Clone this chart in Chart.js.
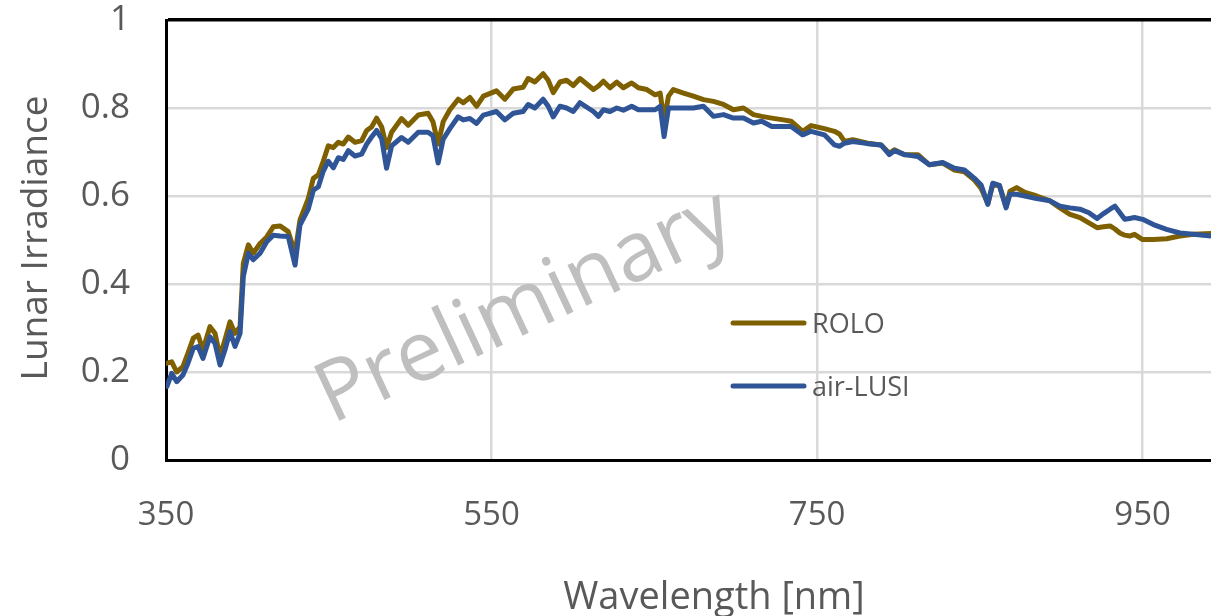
<!DOCTYPE html>
<html>
<head>
<meta charset="utf-8">
<script src="https://cdn.jsdelivr.net/npm/chart.js@4/dist/chart.umd.min.js"></script>
<style>
  html, body { margin: 0; padding: 0; background: #fff; }
  canvas { display: block; }
</style>
</head>
<body>
<canvas id="lunar" width="1211" height="616"></canvas>
<script>
// wavelength in nm
const wavelengths = [
  350.6, 353.5, 356.6, 360.4, 363.5, 366.8, 369.7, 372.7, 377, 380.1,
  383.2, 386.2, 389.3, 392.4, 395.5, 397.5, 400.6, 403.6, 407.8, 411.9,
  415.9, 420, 425.1, 429.3, 432.3, 437.4, 440.5, 443.6, 446.6, 449.7,
  452.8, 455.9, 458.9, 462, 466.1, 470.2, 473.3, 476.3, 479.4, 482.5,
  485.5, 488.6, 494.7, 498.8, 505, 511, 514, 517.2, 520.3, 524.4,
  529.5, 532.6, 536.7, 540.8, 545, 553, 558.2, 563.3, 569.4, 572.5,
  576.6, 581.7, 584.8, 587.9, 592, 596.1, 600.2, 604.3, 612.6, 615.7,
  618.7, 622.8, 626.9, 631, 636.1, 640.2, 645.4, 650.5, 653.6, 656,
  658.7, 661.7, 667.9, 674, 680.2, 686.3, 692.5, 698.6, 704.8, 710.9,
  716, 722.2, 729.3, 734, 741.2, 746.3, 754.5, 760.7, 763.7, 766.8,
  771.9, 781.1, 789.3, 794.4, 797.5, 803.7, 811.9, 819, 827.2, 834.4,
  840.5, 846.7, 850.8, 854.9, 857.9, 862, 866.1, 868.5, 872.6, 877.7,
  884.9, 893.1, 899.2, 905.4, 911.5, 917, 922, 926, 930, 933,
  936, 939, 942, 945, 950, 956.6, 964.7, 972.9, 981.1, 992
];

const roloValues = [
  0.22, 0.223, 0.20, 0.212, 0.243, 0.277, 0.284, 0.25, 0.303, 0.288,
  0.235, 0.273, 0.314, 0.288, 0.303, 0.447, 0.489, 0.47, 0.492, 0.507,
  0.53, 0.532, 0.519, 0.47, 0.545, 0.594, 0.64, 0.648, 0.679, 0.714,
  0.71, 0.722, 0.718, 0.734, 0.722, 0.726, 0.749, 0.757, 0.777, 0.757,
  0.71, 0.745, 0.776, 0.761, 0.784, 0.788, 0.769, 0.718, 0.769, 0.796,
  0.82, 0.812, 0.824, 0.804, 0.827, 0.839, 0.82, 0.843, 0.847, 0.867,
  0.859, 0.878, 0.863, 0.835, 0.859, 0.863, 0.851, 0.867, 0.842, 0.85,
  0.861, 0.846, 0.859, 0.846, 0.857, 0.846, 0.842, 0.83, 0.834, 0.77,
  0.827, 0.842, 0.834, 0.827, 0.819, 0.815, 0.808, 0.796, 0.8, 0.785,
  0.781, 0.777, 0.773, 0.77, 0.747, 0.76, 0.753, 0.747, 0.741, 0.724,
  0.728, 0.72, 0.716, 0.697, 0.705, 0.694, 0.694, 0.671, 0.675, 0.659,
  0.655, 0.636, 0.617, 0.583, 0.625, 0.624, 0.576, 0.611, 0.619, 0.608,
  0.6, 0.589, 0.573, 0.558, 0.551, 0.539, 0.528, 0.53, 0.532, 0.525,
  0.516, 0.511, 0.509, 0.513, 0.501, 0.501, 0.503, 0.509, 0.513, 0.515
];

const lusiValues = [
  0.167, 0.197, 0.178, 0.193, 0.22, 0.254, 0.258, 0.231, 0.28, 0.265,
  0.216, 0.25, 0.292, 0.258, 0.288, 0.417, 0.47, 0.455, 0.47, 0.496,
  0.511, 0.509, 0.508, 0.443, 0.534, 0.57, 0.613, 0.621, 0.656, 0.679,
  0.664, 0.687, 0.683, 0.703, 0.691, 0.695, 0.718, 0.734, 0.749, 0.73,
  0.663, 0.714, 0.733, 0.722, 0.745, 0.745, 0.737, 0.675, 0.729, 0.753,
  0.78, 0.773, 0.776, 0.765, 0.784, 0.792, 0.773, 0.788, 0.792, 0.808,
  0.8, 0.82, 0.804, 0.78, 0.804, 0.8, 0.792, 0.812, 0.792, 0.781,
  0.796, 0.792, 0.8, 0.795, 0.804, 0.796, 0.796, 0.796, 0.804, 0.735,
  0.8, 0.8, 0.8, 0.8, 0.804, 0.781, 0.785, 0.777, 0.777, 0.766,
  0.77, 0.758, 0.758, 0.758, 0.739, 0.747, 0.739, 0.716, 0.713, 0.72,
  0.724, 0.719, 0.716, 0.694, 0.703, 0.694, 0.69, 0.671, 0.676, 0.663,
  0.659, 0.64, 0.625, 0.581, 0.629, 0.624, 0.573, 0.604, 0.604, 0.6,
  0.594, 0.589, 0.577, 0.573, 0.57, 0.562, 0.549, 0.56, 0.57, 0.577,
  0.562, 0.547, 0.549, 0.551, 0.547, 0.535, 0.524, 0.516, 0.513, 0.509
];

const xTicks = [350, 550, 750, 950];
const seriesLabels = ['ROLO', 'air-LUSI'];

const GREY_TEXT = '#595959';
const FONT = "'Open Sans', sans-serif";

// watermark, axis titles and the in-plot legend
const annotations = {
  id: 'annotations',
  beforeDatasetsDraw(chart) {
    const ctx = chart.ctx;
    ctx.save();
    ctx.translate(525, 308);
    ctx.rotate(-25 * Math.PI / 180);
    ctx.font = `84px ${FONT}`;
    ctx.fillStyle = '#bfbfbf';
    ctx.textAlign = 'center';
    ctx.textBaseline = 'middle';
    ctx.fillText('Preliminary', 0, 0);
    ctx.restore();
  },
  afterDraw(chart) {
    const ctx = chart.ctx;
    ctx.save();
    ctx.fillStyle = GREY_TEXT;
    ctx.textBaseline = 'middle';

    // x title
    ctx.font = `38px ${FONT}`;
    ctx.textAlign = 'center';
    ctx.fillText('Wavelength [nm]', 714, 598);

    // y title
    ctx.save();
    ctx.translate(36, 238);
    ctx.rotate(-Math.PI / 2);
    ctx.font = `37px ${FONT}`;
    ctx.fillText('Lunar Irradiance', 0, 0);
    ctx.restore();

    // legend
    const rows = [323, 386];
    ctx.font = `27px ${FONT}`;
    ctx.textAlign = 'left';
    chart.data.datasets.forEach((ds, i) => {
      const y = rows[i];
      ctx.strokeStyle = ds.borderColor;
      ctx.lineWidth = 5;
      ctx.lineCap = 'round';
      ctx.beginPath();
      ctx.moveTo(733, y);
      ctx.lineTo(804, y);
      ctx.stroke();
      ctx.fillStyle = GREY_TEXT;
      ctx.fillText(ds.label, 812, y + 2);
    });
    ctx.restore();
  }
};

const ctx = document.getElementById('lunar').getContext('2d');

new Chart(ctx, {
  type: 'line',
  data: {
    labels: wavelengths,
    datasets: [
      {
        label: seriesLabels[0],
        data: roloValues,
        borderColor: '#7f6000',
        borderWidth: 5,
        order: 1,
      },
      {
        label: seriesLabels[1],
        data: lusiValues,
        borderColor: '#2f5597',
        borderWidth: 5,
        order: 0,
      },
    ],
  },
  options: {
    responsive: false,
    animation: false,
    layout: { padding: { top: 20, right: 0, bottom: 0, left: 0 } },
    elements: {
      point: { radius: 0 },
      line: { tension: 0, borderJoinStyle: 'round', borderCapStyle: 'round' },
    },
    plugins: {
      legend: { display: false },
      tooltip: { enabled: false },
    },
    scales: {
      x: {
        type: 'linear',
        min: 350,
        max: 992,
        afterBuildTicks: (scale) => {
          scale.ticks = xTicks.map(v => ({ value: v }));
        },
        afterFit: (scale) => {
          scale.height = 156;
          scale.paddingLeft = 0;
          scale.paddingRight = 0;
        },
        grid: {
          drawTicks: false,
          color: (c) => (c.tick && c.tick.value === 350 ? 'rgba(0,0,0,0)' : '#d9d9d9'),
          lineWidth: 2.5,
        },
        border: { color: '#000', width: 3 },
        ticks: {
          padding: 36,
          maxRotation: 0,
          color: GREY_TEXT,
          font: { family: FONT, size: 33 },
        },
      },
      y: {
        min: 0,
        max: 1,
        afterFit: (scale) => {
          scale.width = 166;
          scale.paddingTop = 0;
          scale.paddingBottom = 0;
        },
        grid: {
          drawTicks: false,
          color: (c) => (c.tick && c.tick.value === 1 ? '#000' : '#d9d9d9'),
          lineWidth: (c) => (c.tick && c.tick.value === 1 ? 3.5 : 2.5),
        },
        border: { color: '#000', width: 3 },
        ticks: {
          stepSize: 0.2,
          padding: 36,
          color: GREY_TEXT,
          font: { family: FONT, size: 35 },
          callback: (v) => (v === 0 || v === 1 ? String(v) : v.toFixed(1)),
        },
      },
    },
  },
  plugins: [annotations],
});
</script>
</body>
</html>
